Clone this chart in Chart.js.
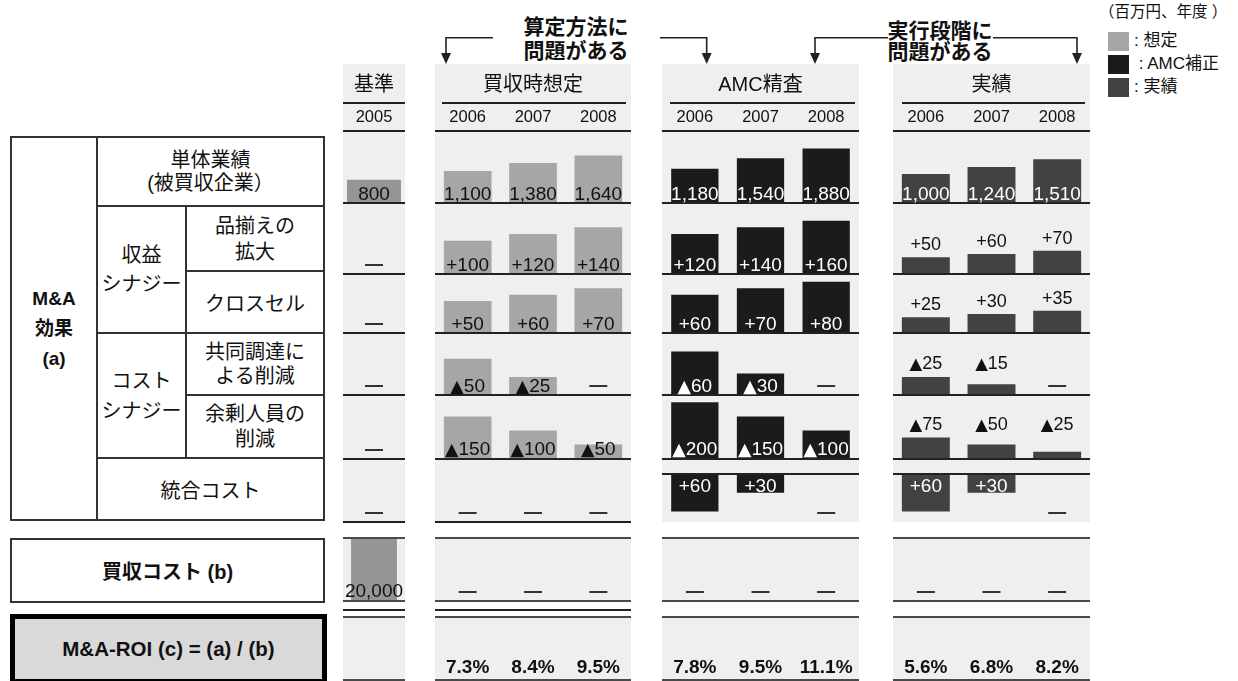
<!DOCTYPE html>
<html>
<head>
<meta charset="utf-8">
<script src="https://cdn.jsdelivr.net/npm/chart.js@4.4.1/dist/chart.umd.min.js"></script>
<style>
body { margin: 0; background: #fff; width: 1238px; height: 681px; overflow: hidden; position: relative;
  font-family: "Liberation Sans", "Noto Sans CJK JP", sans-serif; color: #111; }
.cell { position: absolute; box-sizing: border-box; border: 2px solid #333; display: flex;
  align-items: center; justify-content: center; text-align: center; font-size: 20px; }
.bold { font-weight: bold; }
canvas { position: absolute; top: 64px; }
.note { position: absolute; font-weight: bold; font-size: 21px; text-align: center; white-space: nowrap; }
.sw { position: absolute; left: 1108px; width: 21px; height: 19px; }
.lg { position: absolute; left: 1134px; font-size: 17px; line-height: 20px; white-space: nowrap; }
</style>
</head>
<body>

<!-- left table -->
<div class="cell bold" style="left:10px;top:136px;width:88px;height:385px;font-size:19px;line-height:30px">M&amp;A<br>効果<br>(a)</div>
<div class="cell" style="left:96px;top:136px;width:229px;height:71px;line-height:23px">単体業績<br>(被買収企業）</div>
<div class="cell" style="left:96px;top:205px;width:91px;height:129px;line-height:29px">収益<br>シナジー</div>
<div class="cell" style="left:185px;top:205px;width:140px;height:67px;line-height:26px">品揃えの<br>拡大</div>
<div class="cell" style="left:185px;top:270px;width:140px;height:64px">クロスセル</div>
<div class="cell" style="left:96px;top:332px;width:91px;height:127px;line-height:30px">コスト<br>シナジー</div>
<div class="cell" style="left:185px;top:332px;width:140px;height:64px;line-height:24px">共同調達に<br>よる削減</div>
<div class="cell" style="left:185px;top:394px;width:140px;height:65px;line-height:25px">余剰人員の<br>削減</div>
<div class="cell" style="left:96px;top:457px;width:229px;height:64px">統合コスト</div>
<div class="cell bold" style="left:10px;top:538px;width:315px;height:65px">買収コスト (b)</div>
<div class="cell bold" style="left:10px;top:614px;width:317px;height:70px;border:5px solid #000;background:#d9d9d9;font-size:20.5px">M&amp;A-ROI (c) = (a) / (b)</div>

<!-- notes and arrows -->
<div class="note" style="left:476px;top:15px;width:200px;line-height:24px">算定方法に<br>問題がある</div>
<div class="note" style="left:840px;top:20px;width:200px;line-height:21px">実行段階に<br>問題がある</div>
<svg width="1238" height="681" style="position:absolute;left:0;top:0;pointer-events:none">
  <g stroke="#222" stroke-width="1.6" fill="none">
    <path d="M493 37.7 H446 V55"/>
    <path d="M660 37.7 H706.7 V55"/>
    <path d="M888 37.7 H815 V55"/>
    <path d="M993 37.7 H1077 V55"/>
  </g>
  <g fill="#222">
    <polygon points="441,53 451,53 446,64"/>
    <polygon points="701.7,53 711.7,53 706.7,64"/>
    <polygon points="810,53 820,53 815,64"/>
    <polygon points="1072,53 1082,53 1077,64"/>
  </g>
</svg>

<!-- legend -->
<div style="position:absolute;left:1099px;top:2px;font-size:15.5px;line-height:20px;white-space:nowrap">（百万円、年度 ）</div>
<div class="sw" style="top:32px;background:#a6a6a6"></div>
<div class="sw" style="top:55px;background:#1b1b1b"></div>
<div class="sw" style="top:78px;background:#424242"></div>
<div class="lg" style="top:31px">: 想定</div>
<div class="lg" style="top:54px">&nbsp;: AMC補正</div>
<div class="lg" style="top:77px">: 実績</div>

<canvas id="c-base" width="62" height="617" style="left:343px"></canvas>
<canvas id="c-plan" width="196" height="617" style="left:435px"></canvas>
<canvas id="c-amc" width="197" height="617" style="left:662px"></canvas>
<canvas id="c-actual" width="197" height="617" style="left:893px"></canvas>

<script>
// years
var yearsBase = ['2005'];
var yearsPlan = ['2006', '2007', '2008'];
var yearsAmc = ['2006', '2007', '2008'];
var yearsActual = ['2006', '2007', '2008'];

// 基準
var baseStandalone = [800];
var baseAssortment = [null];
var baseCrossSell = [null];
var baseProcurement = [null];
var baseHeadcount = [null];
var baseIntegration = [null];
var baseAcquisition = [20000];
var baseRoi = [null];

// 買収時想定
var planStandalone = [1100, 1380, 1640];
var planAssortment = [100, 120, 140];
var planCrossSell = [50, 60, 70];
var planProcurement = [50, 25, null];
var planHeadcount = [150, 100, 50];
var planIntegration = [null, null, null];
var planAcquisition = [null, null, null];
var planRoi = [7.3, 8.4, 9.5];

// AMC精査
var amcStandalone = [1180, 1540, 1880];
var amcAssortment = [120, 140, 160];
var amcCrossSell = [60, 70, 80];
var amcProcurement = [60, 30, null];
var amcHeadcount = [200, 150, 100];
var amcIntegration = [60, 30, null];
var amcAcquisition = [null, null, null];
var amcRoi = [7.8, 9.5, 11.1];

// 実績
var actualStandalone = [1000, 1240, 1510];
var actualAssortment = [50, 60, 70];
var actualCrossSell = [25, 30, 35];
var actualProcurement = [25, 15, null];
var actualHeadcount = [75, 50, 25];
var actualIntegration = [60, 30, null];
var actualAcquisition = [null, null, null];
var actualRoi = [5.6, 6.8, 8.2];

var FONT = '"Liberation Sans", "Noto Sans CJK JP", sans-serif';
Chart.defaults.font.family = FONT;
Chart.defaults.color = '#111';
Chart.defaults.animation = false;

var comma = function (v) { return v.toLocaleString('en-US'); };
var plus = function (v) { return '+' + v; };
var tri = function (v) { return '▲' + v; };

// one stacked y axis per table row (h = row height in px)
var rows = [
    { id: 'r1', h: 72, max: 2480, fmt: comma },
    { id: 'r2', h: 71, max: 213, fmt: plus },
    { id: 'r3', h: 59.3, max: 92, fmt: plus },
    { id: 'r4', h: 62, max: 85, fmt: tri },
    { id: 'r5', h: 63.4, max: 225, fmt: tri },
    { id: 'r6', h: 63, min: -24, max: 76, reverse: true, fmt: plus },
    { id: 'g1', h: 16 },
    { id: 'r7', h: 63, max: 20000, fmt: comma },
    { id: 'g2', h: 16 },
    { id: 'r8', h: 64.3, max: 1 }
];
var rowById = {};
rows.forEach(function (r) { rowById[r.id] = r; });

var groups = [
    { id: 'base', canvas: 'c-base', title: '基準', labels: yearsBase, color: '#959595', barPct: 0.87,
      inset: [0, 0], extraLine: true, roi: baseRoi,
      series: { r1: baseStandalone, r2: baseAssortment, r3: baseCrossSell, r4: baseProcurement,
                r5: baseHeadcount, r6: baseIntegration, r7: baseAcquisition } },
    { id: 'plan', canvas: 'c-plan', title: '買収時想定', labels: yearsPlan, color: '#a6a6a6', barPct: 0.73,
      inset: [7, 5], extraLine: true, roi: planRoi,
      series: { r1: planStandalone, r2: planAssortment, r3: planCrossSell, r4: planProcurement,
                r5: planHeadcount, r6: planIntegration, r7: planAcquisition } },
    { id: 'amc', canvas: 'c-amc', title: 'AMC精査', labels: yearsAmc, color: '#1b1b1b', barPct: 0.72,
      inset: [8, 4], extraLine: false, roi: amcRoi,
      series: { r1: amcStandalone, r2: amcAssortment, r3: amcCrossSell, r4: amcProcurement,
                r5: amcHeadcount, r6: amcIntegration, r7: amcAcquisition } },
    { id: 'actual', canvas: 'c-actual', title: '実績', labels: yearsActual, color: '#424242', barPct: 0.73,
      inset: [9, 5], extraLine: false, roi: actualRoi,
      series: { r1: actualStandalone, r2: actualAssortment, r3: actualCrossSell, r4: actualProcurement,
                r5: actualHeadcount, r6: actualIntegration, r7: actualAcquisition } }
];

function labelStyle(g, rowId) {
    if (g.id === 'amc') return { pos: 'in', color: '#fff' };
    if (g.id === 'actual') {
        if (rowId === 'r1' || rowId === 'r6') return { pos: 'in', color: '#fff' };
        if (rowId === 'r4' || rowId === 'r5') return { pos: 'row', color: '#111' };
        return { pos: 'above', color: '#111' };
    }
    return { pos: 'in', color: '#111' };
}

// draws a label centred at x; a leading ▲ gets a larger symbol font
function drawLabel(ctx, text, x, y, size) {
    var mainFont = size + 'px ' + FONT;
    if (text.charAt(0) !== '▲') {
        ctx.font = mainFont;
        ctx.textAlign = 'center';
        ctx.fillText(text, x, y);
        return;
    }
    var symFont = (size - 1.5) + 'px "DejaVu Sans", sans-serif';
    var rest = text.slice(1);
    ctx.font = symFont;
    var w1 = ctx.measureText('▲').width;
    ctx.font = mainFont;
    var w2 = ctx.measureText(rest).width;
    var start = x - (w1 + w2) / 2;
    ctx.textAlign = 'left';
    ctx.font = symFont;
    ctx.fillText('▲', start, y);
    ctx.font = mainFont;
    ctx.fillText(rest, start + w1, y);
}

function panelPlugin(g) {
    return {
        id: 'panel',
        beforeDraw: function (chart) {
            var ctx = chart.ctx;
            ctx.save();
            ctx.fillStyle = '#efefef';
            ctx.fillRect(0, 0, chart.width, chart.height);
            ctx.fillStyle = '#fff';
            ['g1', 'g2'].forEach(function (id) {
                var s = chart.scales[id];
                ctx.fillRect(0, s.top, chart.width, s.bottom - s.top);
            });
            ctx.restore();
        },
        afterDatasetsDraw: function (chart) {
            var ctx = chart.ctx, xs = chart.scales.x, w = chart.width;
            ctx.save();

            function line(y, x1, x2, col) {
                y = Math.round(y);
                ctx.beginPath();
                ctx.moveTo(x1, y);
                ctx.lineTo(x2, y);
                ctx.strokeStyle = col || '#222';
                ctx.lineWidth = 2;
                ctx.stroke();
            }
            function dash(x, y) {
                ctx.beginPath();
                ctx.moveTo(x - 9, Math.round(y));
                ctx.lineTo(x + 9, Math.round(y));
                ctx.strokeStyle = '#333';
                ctx.lineWidth = 2;
                ctx.stroke();
            }

            // header lines
            line(39, g.inset[0], w - g.inset[1]);
            line(chart.chartArea.top, 0, w);

            // row lines
            ['r1', 'r2', 'r3', 'r4', 'r5'].forEach(function (id) { line(chart.scales[id].bottom, 0, w); });
            var r6 = chart.scales.r6;
            var hasInteg = g.series.r6.some(function (v) { return v != null; });
            line(hasInteg ? r6.getPixelForValue(0) : r6.bottom, 0, w);
            var r7 = chart.scales.r7, r8 = chart.scales.r8;
            line(r7.top, 0, w, '#4a4a4a');
            line(r7.bottom, 0, w, '#4a4a4a');
            if (g.extraLine) line(r7.bottom + 9.3, 0, w, '#222');
            line(r8.top, 0, w, '#4a4a4a');
            line(r8.bottom - 1, 0, w, '#4a4a4a');

            // value labels and dashes
            ctx.textBaseline = 'alphabetic';
            chart.data.datasets.forEach(function (ds, di) {
                var row = rowById[ds.yAxisID], s = chart.scales[row.id];
                var meta = chart.getDatasetMeta(di), st = labelStyle(g, row.id);
                var tops = [];
                ds.data.forEach(function (v, j) { if (v != null) tops.push(meta.data[j].y); });
                var rowTop = Math.min.apply(null, tops);
                ds.data.forEach(function (v, j) {
                    var x = xs.getPixelForValue(j);
                    if (v == null) { dash(x, s.bottom - 9); return; }
                    var bar = meta.data[j], y, size = 18;
                    if (st.pos === 'in') {
                        size = 19;
                        y = row.reverse ? bar.base + 18 : bar.base - 3.5;
                    } else if (st.pos === 'above') {
                        y = bar.y - 7;
                    } else {
                        y = rowTop - 8;
                    }
                    ctx.fillStyle = st.color;
                    drawLabel(ctx, row.fmt(v), bar.x, y, size);
                });
            });

            // ROI
            ctx.font = 'bold 19px ' + FONT;
            ctx.textAlign = 'center';
            ctx.fillStyle = '#111';
            g.roi.forEach(function (v, j) {
                if (v == null) return;
                ctx.fillText(v.toFixed(1) + '%', xs.getPixelForValue(j), r8.bottom - 8);
            });
            ctx.restore();
        }
    };
}

groups.forEach(function (g) {
    var scales = {
        x: {
            type: 'category', position: 'top', offset: true,
            grid: { display: false, drawTicks: false },
            border: { display: false },
            ticks: { font: { size: 16.5 }, color: '#111', padding: 4, maxRotation: 0, autoSkip: false },
            title: { display: true, text: g.title, font: { size: 20 }, color: '#111', padding: { top: 9, bottom: 0 } },
            afterFit: function (s) { s.height = 67; }
        }
    };
    rows.forEach(function (r, i) {
        scales[r.id] = {
            type: 'linear', axis: 'y', display: false, position: 'right',
            stack: 'rows', stackWeight: r.h, weight: i,
            min: r.min || 0, max: r.max, reverse: !!r.reverse
        };
    });

    var datasets = [];
    rows.forEach(function (r) {
        var values = g.series[r.id];
        if (!values) return;
        datasets.push({
            label: r.id,
            data: values,
            xAxisID: 'x',
            yAxisID: r.id,
            backgroundColor: g.color,
            borderWidth: 0,
            grouped: false,
            categoryPercentage: 1,
            barPercentage: (g.id === 'base' && r.id === 'r7') ? 0.74 : g.barPct
        });
    });

    new Chart(document.getElementById(g.canvas), {
        type: 'bar',
        data: { labels: g.labels, datasets: datasets },
        options: {
            responsive: false,
            maintainAspectRatio: false,
            devicePixelRatio: 1,
            events: [],
            layout: { padding: 0 },
            plugins: { legend: { display: false }, tooltip: { enabled: false } },
            scales: scales
        },
        plugins: [panelPlugin(g)]
    });
});
</script>
</body>
</html>
